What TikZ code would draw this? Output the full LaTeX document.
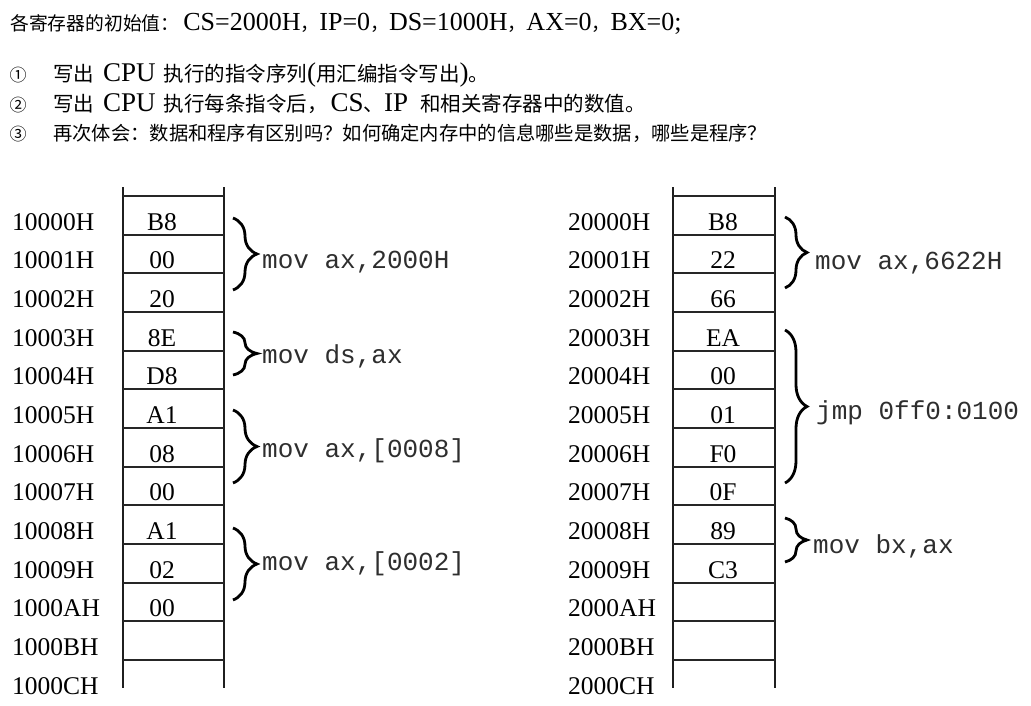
\documentclass[tikz,border=0pt]{standalone}
\usepackage{fontspec}
\setmainfont{Liberation Serif}
\setmonofont{Liberation Mono}
\newfontfamily\cjk{Noto Sans CJK SC}
\usetikzlibrary{decorations.pathreplacing}
\newcommand\zhtxt[1]{{\cjk\fontsize{20.5}{24}\selectfont #1}}
\newcommand\zhfour[1]{{\cjk\fontsize{19.3}{22}\selectfont #1}}
\newcommand\zhone[1]{{\cjk\fontsize{18.8}{22}\selectfont #1}}
\begin{document}
\begin{tikzpicture}[x=1pt,y=-1pt,
  toptext/.style={anchor=base west,inner sep=0pt,font=\fontsize{26}{30}\selectfont},
  qtext/.style={anchor=base west,inner sep=0pt,font=\fontsize{27}{30}\selectfont},
  numtext/.style={anchor=base,inner sep=0pt,font=\cjk\fontsize{17}{20}\selectfont},
  addr/.style={anchor=base west,inner sep=0pt,font=\fontsize{25.5}{28}\selectfont},
  val/.style={anchor=base,inner sep=0pt,font=\fontsize{25.5}{28}\selectfont},
  asm/.style={anchor=base west,inner sep=0pt,text=black!82,font=\ttfamily\fontsize{26}{28}\selectfont},
  vline/.style={line width=2.2pt,color=black!88},
  hline/.style={line width=1.9pt,color=black!85},
  bracestyle/.style={decorate,decoration={brace,amplitude=#1},line width=2.8pt},
]
\useasboundingbox (0,0) rectangle (1031,706);
\fill[white] (0,0) rectangle (1031,706);

% ---- header text ----
\node[toptext] (l0) at (10,31) {\zhone{各寄存器的初始值：}\hspace{4pt}CS=2000H\zhone{，}IP=0\zhone{，}DS=1000H\zhone{，}AX=0\zhone{，}BX=0;};
\node[numtext] (n1) at (18,82) {①};
\node[qtext] (l1) at (53,82) {\zhtxt{写出}\hspace{9pt}CPU\hspace{8pt}\zhtxt{执行的指令序列}(\zhtxt{用汇编指令写出})\zhtxt{。}};
\node[numtext] (n2) at (18,112) {②};
\node[qtext] (l2) at (53,112) {\zhtxt{写出}\hspace{9pt}CPU\hspace{8pt}\zhtxt{执行每条指令后，}\hspace{3pt}CS\zhtxt{、}IP\hspace{12pt}\zhtxt{和相关寄存器中的数值。}};
\node[numtext] (n3) at (18,141) {③};
\node[toptext] (l3) at (53,141) {\zhfour{再次体会：数据和程序有区别吗？如何确定内存中的信息哪些是数据，哪些是程序？}};

% ---- left memory table ----
\draw[vline] (123,187) -- (123,688);
\draw[vline] (224,187) -- (224,688);
\foreach \k in {0,...,12} \draw[hline] (123,{196+38.67*\k}) -- (224,{196+38.67*\k});
\foreach \a [count=\i from 0] in {10000H,10001H,10002H,10003H,10004H,10005H,10006H,10007H,10008H,10009H,1000AH,1000BH,1000CH}
  \node[addr] (la\i) at (12,{230+38.67*\i}) {\a};
\foreach \v [count=\i from 0] in {B8,00,20,8E,D8,A1,08,00,A1,02,00}
  \node[val] (lv\i) at (162,{230+38.67*\i}) {\v};

% ---- right memory table ----
\draw[vline] (673,187) -- (673,688);
\draw[vline] (775,187) -- (775,688);
\foreach \k in {0,...,12} \draw[hline] (673,{196+38.67*\k}) -- (775,{196+38.67*\k});
\foreach \a [count=\i from 0] in {20000H,20001H,20002H,20003H,20004H,20005H,20006H,20007H,20008H,20009H,2000AH,2000BH,2000CH}
  \node[addr] (ra\i) at (568,{230+38.67*\i}) {\a};
\foreach \v [count=\i from 0] in {B8,22,66,EA,00,01,F0,0F,89,C3}
  \node[val] (rv\i) at (723,{230+38.67*\i}) {\v};

% ---- left braces and instructions ----
\coordinate (lb1s) at (233,218); \coordinate (lb1e) at (233,290);
\coordinate (lb2s) at (233,332); \coordinate (lb2e) at (233,375);
\coordinate (lb3s) at (233,410); \coordinate (lb3e) at (233,483);
\coordinate (lb4s) at (233,528); \coordinate (lb4e) at (233,600);
\draw[bracestyle=24] (lb1s) -- (lb1e);
\draw[bracestyle=24] (lb2s) -- (lb2e);
\draw[bracestyle=24] (lb3s) -- (lb3e);
\draw[bracestyle=24] (lb4s) -- (lb4e);
\node[asm] (li1) at (262,268) {mov ax,2000H};
\node[asm] (li2) at (262,363) {mov ds,ax};
\node[asm] (li3) at (262,457) {mov ax,[0008]};
\node[asm] (li4) at (262,570) {mov ax,[0002]};

% ---- right braces and instructions ----
\coordinate (rb1s) at (785,217); \coordinate (rb1e) at (785,288);
\coordinate (rb2s) at (785,330); \coordinate (rb2e) at (785,483);
\coordinate (rb3s) at (785,518); \coordinate (rb3e) at (785,562);
\draw[bracestyle=22] (rb1s) -- (rb1e);
\draw[bracestyle=22] (rb2s) -- (rb2e);
\draw[bracestyle=22] (rb3s) -- (rb3e);
\node[asm] (ri1) at (815,269) {mov ax,6622H};
\node[asm] (ri2) at (816,419) {jmp 0ff0:0100};
\node[asm] (ri3) at (813,553) {mov bx,ax};
\end{tikzpicture}
\end{document}
